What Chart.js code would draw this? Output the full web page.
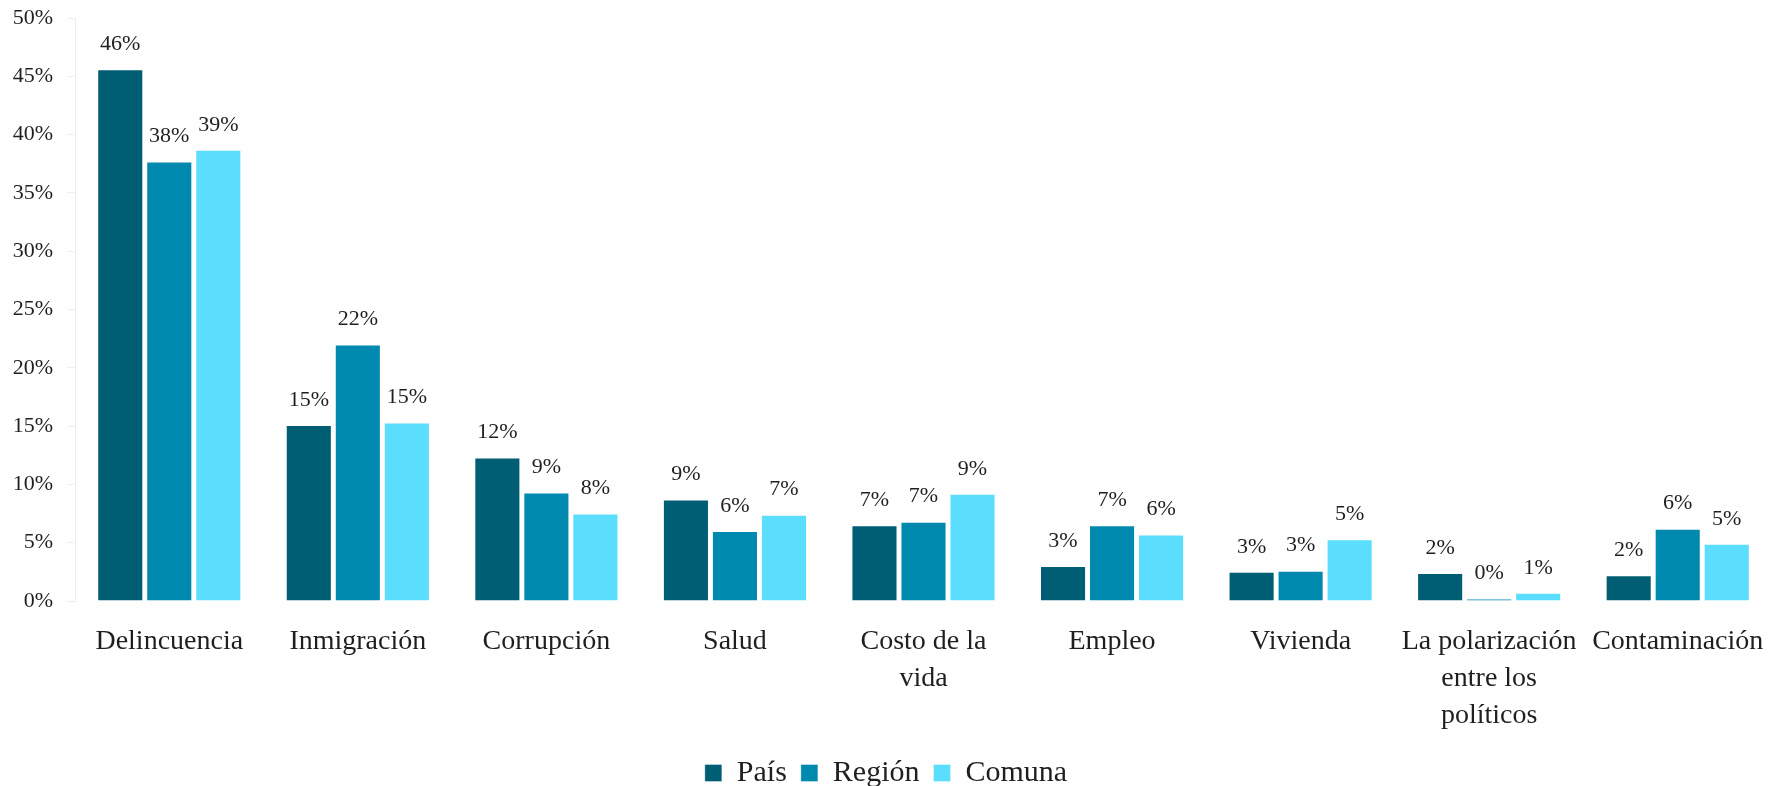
<!DOCTYPE html>
<html lang="es">
<head>
<meta charset="utf-8">
<title>Problemas principales</title>
<script src="https://cdn.jsdelivr.net/npm/chart.js@4.4.1/dist/chart.umd.min.js"></script>
<style>
  html, body { margin: 0; padding: 0; background: #ffffff; }
  #wrap { width: 1772px; height: 786px; position: relative; }
</style>
</head>
<body>
<div id="wrap"><canvas id="problemChart"></canvas></div>
<script>
const categories = [
  'Delincuencia', 'Inmigración', 'Corrupción', 'Salud',
  ['Costo de la', 'vida'], 'Empleo', 'Vivienda',
  ['La polarización', 'entre los', 'políticos'], 'Contaminación'
];

const paisValues = [45.6, 15.1, 12.3, 8.7, 6.5, 3.0, 2.5, 2.4, 2.2];
const regionValues = [37.7, 22.0, 9.3, 6.0, 6.8, 6.5, 2.6, 0.2, 6.2];
const comunaValues = [38.7, 15.3, 7.5, 7.4, 9.2, 5.7, 5.3, 0.7, 4.9];

const yTicks = [0, 5, 10, 15, 20, 25, 30, 35, 40, 45, 50];

const fontFamily = '"Liberation Serif", "DejaVu Serif", serif';
const textColor = '#1f1f1f';

// draws the rounded value above each bar
const barValueLabels = {
  id: 'barValueLabels',
  afterDatasetsDraw(chart) {
    const { ctx } = chart;
    ctx.save();
    ctx.font = `22px ${fontFamily}`;
    ctx.fillStyle = textColor;
    ctx.textAlign = 'center';
    ctx.textBaseline = 'middle';
    chart.data.datasets.forEach((dataset, i) => {
      const meta = chart.getDatasetMeta(i);
      meta.data.forEach((bar, j) => {
        const value = dataset.data[j];
        ctx.fillText(`${Math.round(value)}%`, bar.x, bar.y - 25);
      });
    });
    ctx.restore();
  },
};

function makeDataset(label, data, color) {
  return {
    label,
    data,
    backgroundColor: color,
    borderColor: 'rgba(255, 255, 255, 0.35)',
    borderWidth: 1,
    barPercentage: 0.94,
    categoryPercentage: 0.78,
  };
}

const config = {
  type: 'bar',
  data: {
    labels: categories,
    datasets: [
      makeDataset('País', paisValues, '#005e74'),
      makeDataset('Región', regionValues, '#0089ae'),
      makeDataset('Comuna', comunaValues, '#5bddfd'),
    ],
  },
  options: {
    responsive: true,
    maintainAspectRatio: false,
    animation: false,
    layout: {
      padding: { top: 18, right: 0, bottom: -12, left: 0 },
    },
    plugins: {
      legend: {
        position: 'bottom',
        labels: {
          font: { family: fontFamily, size: 30 },
          color: textColor,
          boxWidth: 17,
          boxHeight: 17,
          padding: 14,
        },
      },
      tooltip: { enabled: false },
    },
    scales: {
      x: {
        grid: { display: false },
        border: { display: false },
        ticks: {
          font: { family: fontFamily, size: 28, lineHeight: 1.32 },
          color: textColor,
          padding: 14,
          maxRotation: 0,
          autoSkip: false,
        },
        afterFit(scale) {
          scale.height = 143;
          scale.paddingLeft = 0;
          scale.paddingRight = 0;
        },
      },
      y: {
        min: 0,
        max: 50,
        afterBuildTicks(scale) {
          scale.ticks = yTicks.map((value) => ({ value }));
        },
        grid: {
          drawOnChartArea: false,
          drawTicks: true,
          tickLength: 8,
          color: '#eeeeee',
        },
        border: { display: true, color: '#eeeeee' },
        ticks: {
          font: { family: fontFamily, size: 22 },
          color: textColor,
          padding: 14,
          callback(value) {
            return `${value}%`;
          },
        },
        afterFit(scale) {
          scale.width = 75;
          scale.paddingTop = 0;
          scale.paddingBottom = 0;
        },
      },
    },
  },
  plugins: [barValueLabels],
};

document.addEventListener('DOMContentLoaded', () => {
  new Chart(document.getElementById('problemChart'), config);
});
</script>
</body>
</html>
